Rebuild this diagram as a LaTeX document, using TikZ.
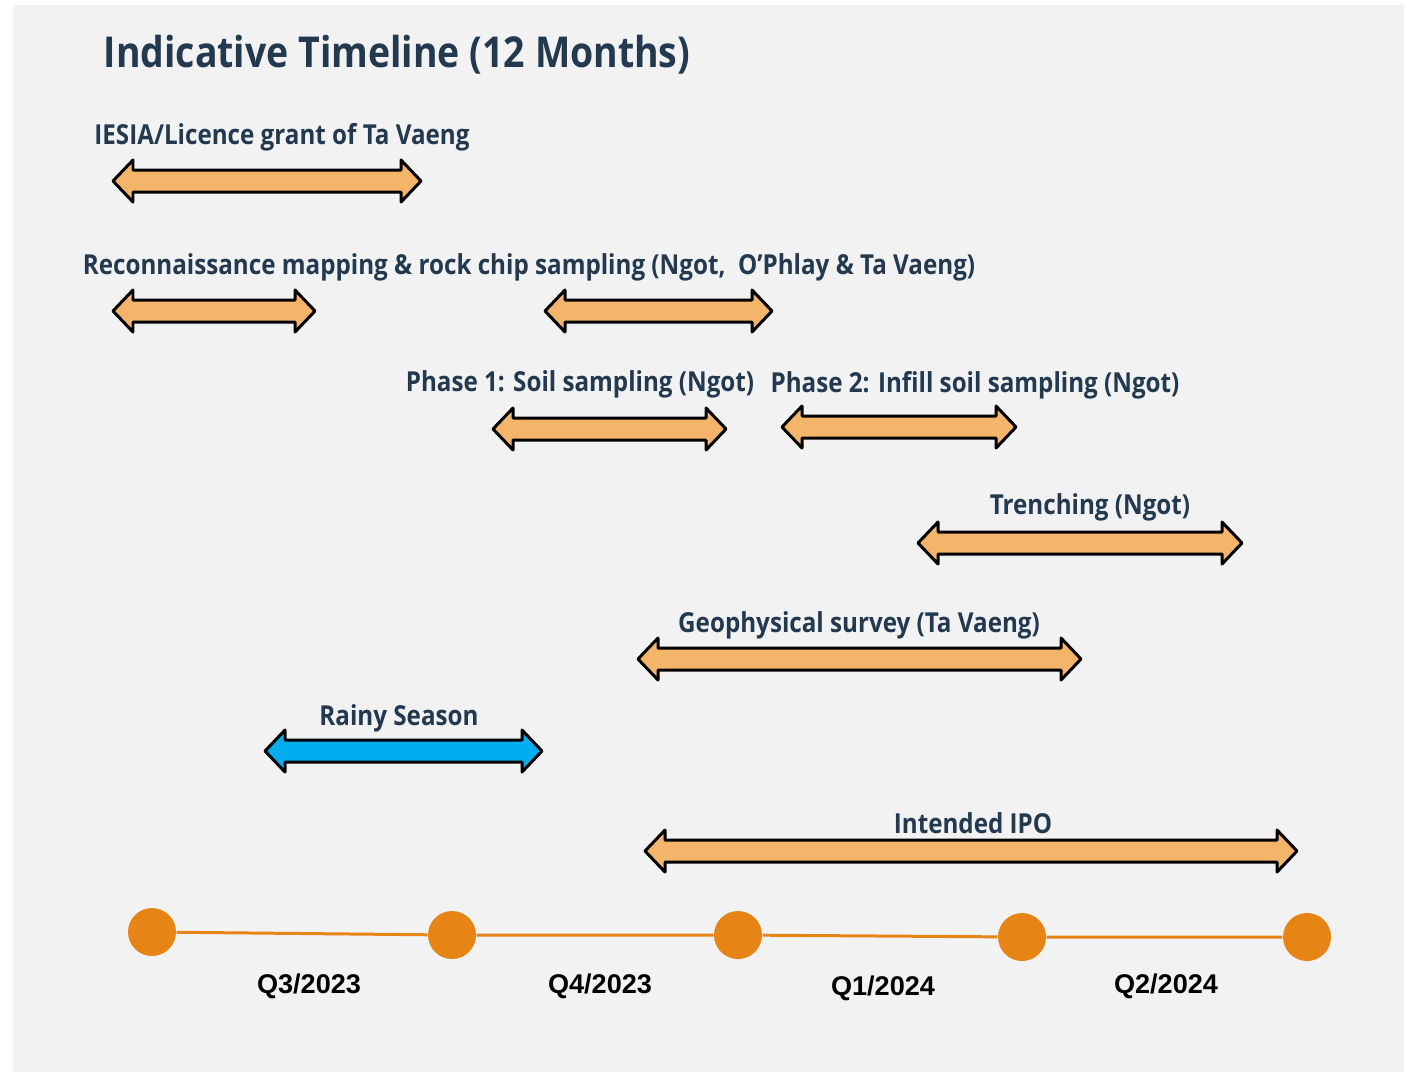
\documentclass[tikz,border=0pt]{standalone}
\usepackage{fontspec}
\setmainfont{Open Sans}[FakeStretch=0.88]
\newfontfamily\qfont{Liberation Sans}
\definecolor{bggrey}{HTML}{F2F2F2}
\definecolor{navy}{HTML}{22394F}
\definecolor{barorange}{HTML}{F4B56A}
\definecolor{rainblue}{HTML}{00AEEF}
\definecolor{dotorange}{HTML}{E68415}
\tikzset{
  lbl/.style={font=\fontsize{7.82}{9}\selectfont\bfseries, text=navy, inner sep=0pt},
  qlbl/.style={font=\qfont\fontsize{7.7}{9}\selectfont\bfseries, text=black, inner sep=0pt},
  qdot/.style={circle, fill=dotorange, minimum size=48*0.01cm, inner sep=0pt},
  tline/.style={dotorange, line width=0.85pt}
}
% double headed bar: x1, x2, y, fill
\newcommand\tlarrow[4]{%
  \draw[line width=0.85pt, line join=round, fill=#4]
    (#1,#3) -- (#1+20,#3-21) -- (#1+20,#3-11) -- (#2-20,#3-11) -- (#2-20,#3-21)
    -- (#2,#3) -- (#2-20,#3+21) -- (#2-20,#3+11) -- (#1+20,#3+11) -- (#1+20,#3+21) -- cycle;}
\begin{document}
\begin{tikzpicture}[x=0.01cm,y=-0.01cm]
  \useasboundingbox (0,0) rectangle (1404,1072);
  \fill[white] (0,0) rectangle (1404,1072);
  \fill[bggrey] (13,5) rectangle (1404,1072);

  \node[font=\fontsize{12.1}{14}\selectfont\bfseries, text=navy, inner sep=0pt] (title) at (397,55) {Indicative Timeline (12 Months)};

  % activities
  \node[lbl] (iesia) at (282,137) {IESIA/Licence grant of Ta Vaeng};
  \tlarrow{113}{421}{181}{barorange}

  \node[lbl] (recon) at (529,267) {Reconnaissance mapping \& rock chip sampling (Ngot,~~O'Phlay \& Ta Vaeng)};
  \tlarrow{113}{315}{311}{barorange}
  \tlarrow{545}{772}{311}{barorange}

  \node[lbl] (phaseone) at (580,384) {Phase 1: Soil sampling (Ngot)};
  \tlarrow{493}{726}{429}{barorange}

  \node[lbl] (phasetwo) at (975,385) {Phase 2: Infill soil sampling (Ngot)};
  \tlarrow{782}{1016}{427}{barorange}

  \node[lbl] (trench) at (1090,507) {Trenching (Ngot)};
  \tlarrow{918}{1242}{543}{barorange}

  \node[lbl] (geo) at (859,625) {Geophysical survey (Ta Vaeng)};
  \tlarrow{638}{1081}{659}{barorange}

  \node[lbl] (rainy) at (399,718) {Rainy Season};
  \tlarrow{265}{542}{751}{rainblue}

  \node[lbl] (ipo) at (973,823) {Intended IPO};
  \tlarrow{645}{1297}{851}{barorange}

  % quarters
  \node[qdot] (d0) at (152,932) {};
  \node[qdot] (d1) at (452,935) {};
  \node[qdot] (d2) at (738,935) {};
  \node[qdot] (d3) at (1022,937) {};
  \node[qdot] (d4) at (1307,937) {};
  \draw[tline] (d0) -- (d1) -- (d2) -- (d3) -- (d4);

  \node[qlbl] (q3) at (309,986) {Q3/2023};
  \node[qlbl] (q4) at (600,986) {Q4/2023};
  \node[qlbl] (q1) at (883,988) {Q1/2024};
  \node[qlbl] (q2) at (1166,986) {Q2/2024};
\end{tikzpicture}
\end{document}
